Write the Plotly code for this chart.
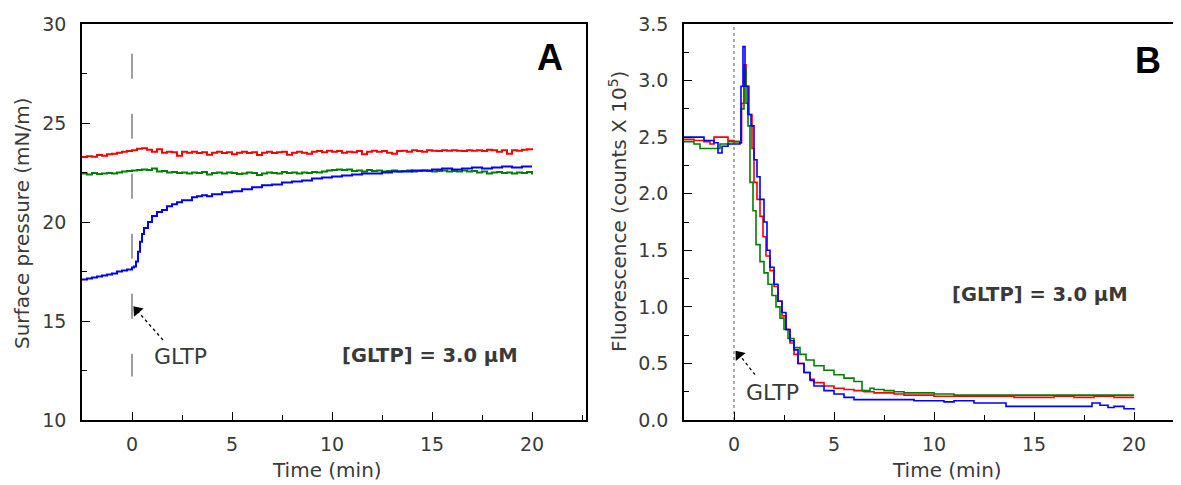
import plotly.graph_objects as go

# ---------------- Panel A data (surface pressure, mN/m) ----------------
tA_step = [-2.5 + 0.25 * i for i in range(91)]
red_A = [23.28, 23.32, 23.30, 23.38, 23.35, 23.42, 23.45, 23.50, 23.55, 23.58,
         23.62, 23.70, 23.72, 23.65, 23.55, 23.68, 23.50, 23.55, 23.52, 23.35,
         23.55, 23.50, 23.55, 23.48, 23.52, 23.40, 23.50, 23.55, 23.48, 23.52,
         23.42, 23.50, 23.55, 23.48, 23.52, 23.38, 23.50, 23.55, 23.48, 23.52,
         23.55, 23.40, 23.50, 23.55, 23.50, 23.45, 23.55, 23.58, 23.52, 23.60,
         23.55, 23.58, 23.50, 23.55, 23.52, 23.58, 23.42, 23.55, 23.60, 23.55,
         23.58, 23.50, 23.45, 23.58, 23.60, 23.55, 23.62, 23.58, 23.55, 23.62,
         23.60, 23.58, 23.62, 23.60, 23.62, 23.60, 23.58, 23.62, 23.60, 23.62,
         23.58, 23.65, 23.62, 23.55, 23.62, 23.45, 23.62, 23.60, 23.65, 23.68,
         23.72]
green_A = [22.45, 22.40, 22.48, 22.42, 22.45, 22.48, 22.45, 22.50, 22.55, 22.58,
           22.60, 22.62, 22.65, 22.62, 22.70, 22.55, 22.58, 22.50, 22.52, 22.48,
           22.50, 22.45, 22.50, 22.48, 22.52, 22.40, 22.48, 22.50, 22.45, 22.50,
           22.48, 22.42, 22.45, 22.50, 22.48, 22.38, 22.45, 22.50, 22.48, 22.45,
           22.52, 22.48, 22.50, 22.45, 22.50, 22.48, 22.52, 22.50, 22.55, 22.60,
           22.62, 22.65, 22.62, 22.65, 22.58, 22.60, 22.55, 22.62, 22.58, 22.60,
           22.55, 22.58, 22.60, 22.55, 22.58, 22.60, 22.55, 22.58, 22.60, 22.58,
           22.55, 22.58, 22.60, 22.55, 22.58, 22.55, 22.60, 22.55, 22.58, 22.50,
           22.55, 22.45, 22.50, 22.52, 22.48, 22.50, 22.45, 22.50, 22.48, 22.52,
           22.40]
tA_blue = [-2.5, -2.25, -2.0, -1.75, -1.5, -1.25, -1.0, -0.75, -0.5, -0.25,
           0.0, 0.1, 0.2, 0.3, 0.4, 0.5, 0.6, 0.8, 1.0, 1.25,
           1.5, 1.75, 2.0, 2.25, 2.5, 2.75, 3.0, 3.25, 3.5, 3.75,
           4.0, 4.5, 5.0, 5.5, 6.0, 6.5, 7.0, 7.5, 8.0, 8.5,
           9.0, 9.5, 10.0, 10.5, 11.0, 11.5, 12.0, 12.5, 13.0, 13.5,
           14.0, 14.5, 15.0, 15.5, 16.0, 16.5, 17.0, 17.5, 18.0, 18.5,
           19.0, 19.5, 20.0]
blue_A = [17.10, 17.15, 17.20, 17.25, 17.30, 17.35, 17.40, 17.50, 17.55, 17.60,
          17.70, 17.75, 18.00, 18.50, 19.00, 19.40, 19.70, 20.00, 20.30, 20.50,
          20.60, 20.80, 20.90, 21.00, 21.10, 21.10, 21.25, 21.30, 21.35, 21.30,
          21.40, 21.50, 21.55, 21.65, 21.75, 21.85, 21.90, 22.00, 22.05, 22.10,
          22.20, 22.25, 22.30, 22.35, 22.40, 22.45, 22.45, 22.50, 22.55, 22.55,
          22.60, 22.60, 22.65, 22.70, 22.65, 22.70, 22.75, 22.70, 22.75, 22.80,
          22.75, 22.80, 22.80]

# ---------------- Panel B data (fluorescence, counts x 10^5) ----------------
tB_red = [-2.5, -2.0, -1.5, -1.2, -1.0, -0.6, -0.3, 0.0, 0.3, 0.38,
          0.5, 0.6, 0.75, 0.9, 1.0, 1.15, 1.3, 1.45, 1.6, 1.8,
          2.0, 2.2, 2.4, 2.6, 2.8, 3.0, 3.2, 3.5, 3.8, 4.0,
          4.5, 5.0, 5.5, 6.0, 6.5, 7.0, 8.0, 8.5, 9.0, 10.0,
          11.0, 12.0, 13.0, 14.0, 15.0, 16.0, 17.0, 18.0, 19.0, 20.0]
red_B = [2.48, 2.47, 2.46, 2.44, 2.50, 2.50, 2.47, 2.46, 2.45, 2.80,
         3.14, 2.95, 2.70, 2.40, 2.10, 1.95, 1.80, 1.62, 1.45, 1.32,
         1.18, 1.05, 0.92, 0.80, 0.68, 0.58, 0.50, 0.42, 0.36, 0.33,
         0.30, 0.28, 0.27, 0.26, 0.25, 0.24, 0.23, 0.22, 0.22, 0.21,
         0.21, 0.21, 0.21, 0.20, 0.20, 0.21, 0.20, 0.21, 0.20, 0.20]
tB_green = [-2.5, -2.0, -1.7, -1.0, -0.7, -0.3, 0.0, 0.3, 0.35, 0.5,
            0.6, 0.7, 0.8, 0.95, 1.1, 1.3, 1.5, 1.7, 1.9, 2.1,
            2.3, 2.5, 2.7, 3.0, 3.3, 3.6, 4.0, 4.5, 5.0, 5.5,
            6.0, 6.4, 6.8, 7.0, 7.5, 8.0, 8.5, 9.0, 10.0, 11.0,
            12.0, 13.0, 14.0, 15.0, 16.0, 17.0, 18.0, 19.0, 20.0]
green_B = [2.46, 2.44, 2.40, 2.40, 2.44, 2.46, 2.46, 2.45, 2.75, 3.10,
           2.80, 2.60, 2.10, 1.85, 1.55, 1.40, 1.30, 1.20, 1.10, 1.00,
           0.90, 0.80, 0.72, 0.64, 0.58, 0.53, 0.48, 0.44, 0.40, 0.37,
           0.34, 0.26, 0.28, 0.27, 0.26, 0.25, 0.24, 0.24, 0.23, 0.22,
           0.22, 0.22, 0.22, 0.22, 0.22, 0.22, 0.22, 0.22, 0.22]
tB_blue = [-2.5, -2.0, -1.5, -1.0, -0.8, -0.6, -0.3, 0.0, 0.3, 0.35,
           0.45, 0.55, 0.7, 0.85, 1.0, 1.15, 1.3, 1.5, 1.65, 1.8,
           2.0, 2.2, 2.4, 2.6, 2.8, 3.0, 3.2, 3.5, 3.8, 4.0,
           4.5, 5.0, 5.5, 6.0, 7.0, 8.0, 9.0, 10.0, 10.5, 11.0,
           12.0, 13.0, 13.6, 15.0, 16.0, 17.0, 17.9, 18.3, 18.7, 19.0,
           19.5, 20.0]
blue_B = [2.50, 2.50, 2.47, 2.45, 2.36, 2.42, 2.44, 2.44, 2.45, 2.95,
          3.30, 2.95, 2.70, 2.60, 2.30, 2.15, 1.95, 1.75, 1.50, 1.35,
          1.20, 1.05, 0.95, 0.80, 0.70, 0.62, 0.50, 0.42, 0.35, 0.30,
          0.26, 0.23, 0.20, 0.18, 0.18, 0.18, 0.17, 0.17, 0.16, 0.17,
          0.15, 0.15, 0.12, 0.12, 0.12, 0.12, 0.15, 0.13, 0.11, 0.12,
          0.10, 0.09]

xticks = [0, 5, 10, 15, 20]
yticks_A = [10, 15, 20, 25, 30]
yticks_B = [0.0, 0.5, 1.0, 1.5, 2.0, 2.5, 3.0, 3.5]

RED, GREEN, BLUE = "#ff0000", "#008000", "#0000ff"
FONT = "DejaVu Sans"
TXT = "#3a3a3a"
OFF = 8                    # browser body margin
W, H = 1181 - OFF, 485 - OFF
PT, PB = 24, 420           # plot area top / bottom in screen px


def px_x(p):
    return (p - OFF) / W


def px_y(p):
    return (PB - p) / (PB - PT)


fig = go.Figure()

# Panel A
fig.add_trace(go.Scatter(x=[0, 0], y=[28.5, 12.2], mode="lines",
                         line=dict(color="#808080", width=1.5, dash="25px,35px"),
                         xaxis="x", yaxis="y", hoverinfo="skip"))
fig.add_trace(go.Scatter(x=tA_step, y=red_A, mode="lines", line=dict(color=RED, width=2, shape="hv"),
                         xaxis="x", yaxis="y"))
fig.add_trace(go.Scatter(x=tA_step, y=green_A, mode="lines", line=dict(color=GREEN, width=2, shape="hv"),
                         xaxis="x", yaxis="y"))
fig.add_trace(go.Scatter(x=tA_blue, y=blue_A, mode="lines", line=dict(color=BLUE, width=2, shape="hv"),
                         xaxis="x", yaxis="y"))
fig.add_trace(go.Scatter(x=[1.55, 0.3], y=[14.04, 15.47], mode="lines",
                         line=dict(color="black", width=1.2, dash="dot"),
                         xaxis="x", yaxis="y", hoverinfo="skip"))
fig.add_trace(go.Scatter(x=[0.25], y=[15.53], mode="markers",
                         marker=dict(symbol="triangle-up", size=11, angle=-41, color="black"),
                         xaxis="x", yaxis="y", hoverinfo="skip"))

# Panel B
fig.add_trace(go.Scatter(x=[0, 0], y=[0, 3.5], mode="lines",
                         line=dict(color="#808080", width=1.3, dash="dot"),
                         xaxis="x2", yaxis="y2", hoverinfo="skip"))
fig.add_trace(go.Scatter(x=tB_red, y=red_B, mode="lines", line=dict(color=RED, width=1.6, shape="hv"),
                         xaxis="x2", yaxis="y2"))
fig.add_trace(go.Scatter(x=tB_green, y=green_B, mode="lines", line=dict(color=GREEN, width=1.6, shape="hv"),
                         xaxis="x2", yaxis="y2"))
fig.add_trace(go.Scatter(x=tB_blue, y=blue_B, mode="lines", line=dict(color=BLUE, width=1.6, shape="hv"),
                         xaxis="x2", yaxis="y2"))
fig.add_trace(go.Scatter(x=[1.05, 0.3], y=[0.40, 0.57], mode="lines",
                         line=dict(color="black", width=1.2, dash="dot"),
                         xaxis="x2", yaxis="y2", hoverinfo="skip"))
fig.add_trace(go.Scatter(x=[0.25], y=[0.575], mode="markers",
                         marker=dict(symbol="triangle-up", size=11, angle=-39, color="black"),
                         xaxis="x2", yaxis="y2", hoverinfo="skip"))

axis_common = dict(showgrid=False, zeroline=False, showline=True, linecolor="black", linewidth=1.5,
                   ticks="inside", ticklen=8, tickwidth=1.3, tickcolor="black", automargin=False,
                   tickfont=dict(family=FONT, size=19, color=TXT))
minor_x = dict(ticks="inside", ticklen=5, dtick=2.5, tick0=0, tickcolor="black")

fig.update_layout(
    width=W, height=H, showlegend=False,
    paper_bgcolor="white", plot_bgcolor="white",
    margin=dict(l=0, r=0, t=PT - OFF, b=H - (PB - OFF), autoexpand=False),
    xaxis=dict(axis_common, domain=[px_x(82), px_x(586)], range=[-2.5, 22.7], tickvals=xticks,
               mirror=True, anchor="y", minor=minor_x, ticklabelstandoff=6),
    yaxis=dict(axis_common, domain=[0, 1], range=[10, 30], tickvals=yticks_A, mirror=True, anchor="x",
               minor=dict(ticks="inside", ticklen=5, dtick=2.5, tick0=0, tickcolor="black"),
               ticklabelstandoff=10),
    xaxis2=dict(axis_common, domain=[px_x(684), 1.0], range=[-2.5, 22.35], tickvals=xticks,
                mirror=True, anchor="y2", minor=minor_x, ticklabelstandoff=6),
    yaxis2=dict(axis_common, domain=[0, 1], range=[0, 3.5], tickvals=yticks_B, tickformat=".1f",
                mirror=False, anchor="x2",
                minor=dict(ticks="inside", ticklen=5, dtick=0.25, tick0=0, tickcolor="black"),
                ticklabelstandoff=10),
)

title_font = dict(family=FONT, size=20, color=TXT)
C = dict(xanchor="center", yanchor="middle", showarrow=False)
annos = [
    dict(C, x=px_x(327), y=px_y(470), xref="paper", yref="paper", text="Time (min)", font=title_font),
    dict(C, x=px_x(947), y=px_y(470), xref="paper", yref="paper", text="Time (min)", font=title_font),
    dict(C, x=px_x(22), y=px_y(223), xref="paper", yref="paper", text="Surface pressure (mN/m)",
         textangle=-90, font=title_font),
    dict(C, x=px_x(618), y=px_y(212), xref="paper", yref="paper",
         text="Fluorescence (counts X 10<sup>5</sup>)", textangle=-90, font=title_font),
    dict(C, x=2.4, y=13.23, xref="x", yref="y", text="GLTP",
         font=dict(family=FONT, size=22, color=TXT)),
    dict(C, x=1.9, y=0.24, xref="x2", yref="y2", text="GLTP",
         font=dict(family=FONT, size=22, color=TXT)),
    dict(C, x=14.9, y=13.28, xref="x", yref="y", text="<b>[GLTP] = 3.0 μM</b>",
         font=dict(family=FONT, size=19.5, color=TXT)),
    dict(C, x=15.3, y=1.105, xref="x2", yref="y2", text="<b>[GLTP] = 3.0 μM</b>",
         font=dict(family=FONT, size=19.5, color=TXT)),
    dict(C, x=20.9, y=28.3, xref="x", yref="y", text="<b>A</b>",
         font=dict(family="Liberation Sans", size=36, color="black")),
    dict(C, x=20.7, y=3.18, xref="x2", yref="y2", text="<b>B</b>",
         font=dict(family="Liberation Sans", size=36, color="black")),
]
fig.update_layout(annotations=annos)

fig.write_html("out.html")
